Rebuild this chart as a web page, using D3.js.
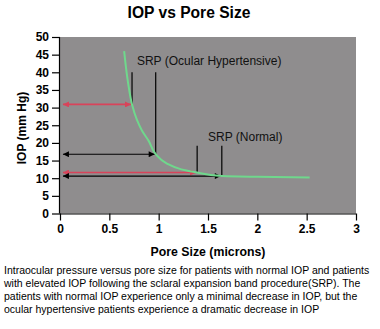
<!DOCTYPE html>
<html><head><meta charset="utf-8">
<script src="https://cdn.jsdelivr.net/npm/d3@7"></script>
<style>body{margin:0;background:#fff;}svg{display:block;font-family:Arial,"Liberation Sans",sans-serif;}</style>
</head><body>
<svg id="chart" width="380" height="329"></svg>
<script>
// ---- data ----
const curvePore = [0.65, 0.69, 0.73, 0.78, 0.83, 0.90, 0.97, 1.08, 1.23, 1.39, 1.64, 2.0, 2.53];
const curveIOP  = [46, 37, 30.9, 26.5, 23.5, 20.5, 16.8, 14.2, 12.5, 11.6, 10.6, 10.4, 10.2];
const arrowIOP  = [30.9, 16.8, 11.6, 10.6];
const arrowPore = [0.73, 0.97, 1.39, 1.64];
const arrowKind = ["pre", "post", "pre", "post"];
const markerTop = [40.0, 40.0, 19.2, 19.2];
const labels = ["SRP (Ocular Hypertensive)", "SRP (Normal)"];
const labelPore = [0.78, 1.5];
const labelIOP = [42.1, 20.6];
const xTicks = [0, 0.5, 1, 1.5, 2, 2.5, 3];
const yTicks = [0, 5, 10, 15, 20, 25, 30, 35, 40, 45, 50];
const title = "IOP vs Pore Size";
const xTitle = "Pore Size (microns)";
const yTitle = "IOP (mm Hg)";
const caption = [
  "Intraocular pressure versus pore size for patients with normal IOP and patients",
  "with elevated IOP following the sclaral expansion band procedure(SRP). The",
  "patients with normal IOP experience only a minimal decrease in IOP, but the",
  "ocular hypertensive patients experience a dramatic decrease in IOP"
];

// ---- drawing ----
const svg = d3.select("#chart");
const L = 60, R = 356, T = 37, B = 213.5;
const x = d3.scaleLinear().domain([0, 3]).range([L, R]);
const y = d3.scaleLinear().domain([0, 50]).range([B, T]);
const colors = {pre: "#d9435a", post: "#000"};

svg.append("text").attr("x", 189).attr("y", 18).attr("text-anchor", "middle")
  .attr("font-weight", "bold").attr("font-size", 15.6).text(title);

svg.append("rect").attr("x", L).attr("y", T).attr("width", R - L).attr("height", B - T)
  .attr("fill", "#8f8d8e");

const defs = svg.append("defs");
Object.entries(colors).forEach(([k, c]) => {
  defs.append("marker").attr("id", "end-" + k).attr("viewBox", "0 0 10 10")
    .attr("refX", 10).attr("refY", 5).attr("markerUnits", "userSpaceOnUse")
    .attr("markerWidth", 8).attr("markerHeight", 6).attr("orient", "auto")
    .append("path").attr("d", "M0,0L10,5L0,10Z").attr("fill", c);
  defs.append("marker").attr("id", "start-" + k).attr("viewBox", "0 0 10 10")
    .attr("refX", 0).attr("refY", 5).attr("markerUnits", "userSpaceOnUse")
    .attr("markerWidth", 8).attr("markerHeight", 6).attr("orient", "auto")
    .append("path").attr("d", "M10,0L0,5L10,10Z").attr("fill", c);
});

// axes
const xAxis = svg.append("g").attr("transform", `translate(0,${B})`)
  .call(d3.axisBottom(x).tickValues(xTicks).tickSize(7).tickPadding(4).tickFormat(d3.format("")));
const yAxis = svg.append("g").attr("transform", `translate(${L},0)`)
  .call(d3.axisLeft(y).tickValues(yTicks).tickSize(8).tickPadding(3));
[xAxis, yAxis].forEach(a => {
  a.select(".domain").attr("stroke", "#000").attr("stroke-width", 1.2);
  a.selectAll(".tick line").attr("stroke", "#000").attr("stroke-width", 1.2);
  a.selectAll("text").attr("font-family", "Arial, 'Liberation Sans', sans-serif")
    .attr("font-weight", "bold").attr("font-size", 12).attr("fill", "#000");
});
xAxis.select(".domain").attr("d", `M${L},0.5H${R}`);
yAxis.select(".domain").attr("d", `M-0.5,${T}V${B}`);

svg.append("text").attr("x", 208).attr("y", 256).attr("text-anchor", "middle")
  .attr("font-weight", "bold").attr("font-size", 12.3).text(xTitle);
svg.append("text").attr("transform", "translate(26,128) rotate(-90)").attr("text-anchor", "middle")
  .attr("font-weight", "bold").attr("font-size", 12).text(yTitle);

// vertical markers
svg.selectAll("line.marker").data(arrowPore).join("line").attr("class", "marker")
  .attr("x1", d => x(d)).attr("x2", d => x(d))
  .attr("y1", (d, i) => y(markerTop[i])).attr("y2", (d, i) => y(arrowIOP[i]))
  .attr("stroke", "#000").attr("stroke-width", 1.2);

// arrows
svg.selectAll("line.arrow").data(arrowIOP).join("line").attr("class", "arrow")
  .attr("x1", x(0.03)).attr("x2", (d, i) => x(arrowPore[i]) - 1)
  .attr("y1", d => y(d)).attr("y2", d => y(d))
  .attr("stroke", (d, i) => colors[arrowKind[i]])
  .attr("stroke-width", (d, i) => arrowKind[i] === "pre" ? 1.6 : 1.1)
  .attr("marker-start", (d, i) => `url(#start-${arrowKind[i]})`)
  .attr("marker-end", (d, i) => `url(#end-${arrowKind[i]})`);

// curve
const pts = curvePore.map((p, i) => [p, curveIOP[i]]);
svg.append("path").datum(pts)
  .attr("d", d3.line().x(d => x(d[0])).y(d => y(d[1])).curve(d3.curveMonotoneY))
  .attr("fill", "none").attr("stroke", "#6fd88c").attr("stroke-width", 2);

// labels
svg.selectAll("text.lbl").data(labels).join("text").attr("class", "lbl")
  .attr("x", (d, i) => x(labelPore[i])).attr("y", (d, i) => y(labelIOP[i]))
  .attr("font-size", 12).attr("fill", "#111").text(d => d);

// caption
svg.selectAll("text.cap").data(caption).join("text").attr("class", "cap")
  .attr("x", 4).attr("y", (d, i) => 274 + i * 13)
  .attr("font-size", 10.5).attr("fill", "#000").text(d => d);
</script>
</body></html>
